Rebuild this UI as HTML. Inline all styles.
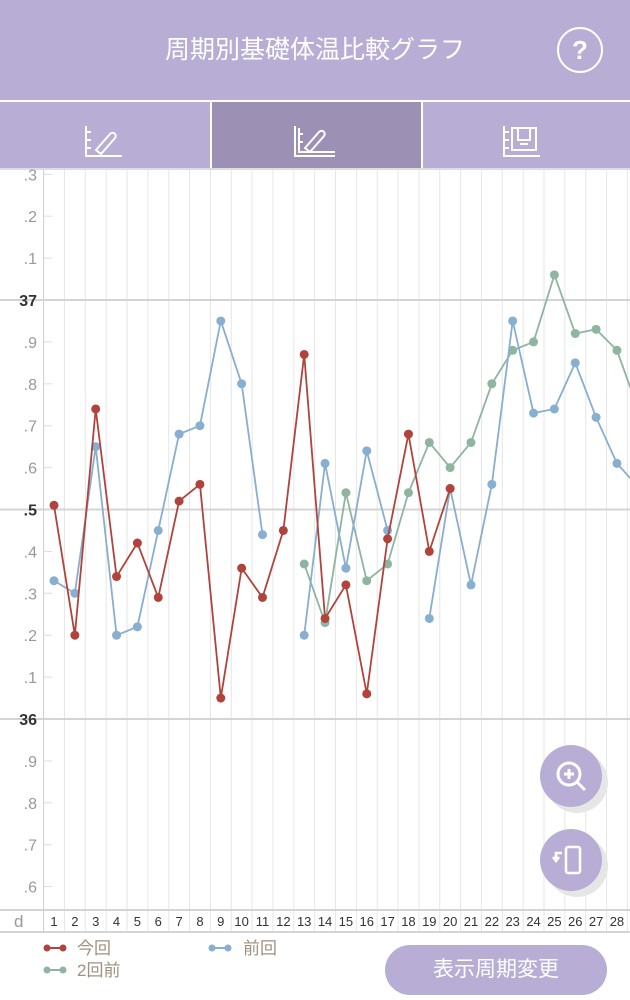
<!DOCTYPE html>
<html><head><meta charset="utf-8"><style>
body{margin:0;width:630px;height:1000px;overflow:hidden;background:#fff;font-family:"Liberation Sans","Noto Sans CJK JP",sans-serif;position:relative}
.hdr{position:absolute;left:0;top:0;width:630px;height:100px;background:#b8aed5;color:#fff;font-size:25px;text-align:center;line-height:100px}
.q{position:absolute;left:557px;top:27px;width:42px;height:42px;border:2px solid #fff;border-radius:50%;line-height:42px;font-size:26px;font-weight:bold;text-align:center}
.tabs{position:absolute;top:102px;left:0;width:630px;height:66px;background:#b8aed5}
.tab2{position:absolute;left:210px;top:0;width:209px;height:66px;background:#9c91b5;border-left:2px solid #fff;border-right:2px solid #fff}
.btn{position:absolute;left:385px;top:945px;width:222px;height:50px;border-radius:25px;background:#b8aed5;color:#fff;font-size:21px;text-align:center;line-height:50px}
.fab{position:absolute;width:62px;height:62px;border-radius:50%;background:#b8aed5;box-shadow:6px 6px 0 #e6e6e6}
</style></head><body>
<div class="hdr">周期別基礎体温比較グラフ<div class="q">?</div></div>
<div class="tabs"><div class="tab2"></div>
<svg width="630" height="66" style="position:absolute;left:0;top:0" fill="none" stroke="#fff" stroke-width="2">
<path d="M86 24v30h36M86 30h5M86 38h5M86 46h5M96 48l14-16a3 3 0 0 1 5 4l-14 16z"/>
<path d="M295 24v30h40M299 26v24h36M299 32h4M299 40h4M305 46l14-16a3 3 0 0 1 5 4l-14 16z"/>
<path d="M504 24v30h36M504 30h5M504 38h5M504 46h5M512 26h24v22h-24zM518 26v12h12v-12M520 42h8"/>
</svg></div>
<svg width="630" height="1000" style="position:absolute;left:0;top:0" font-family="Liberation Sans, sans-serif">
<line x1="0" y1="169" x2="630" y2="169" stroke="#ddd" stroke-width="2"/>
<g id="g"></g>
</svg>
<div class="fab" style="left:540px;top:745px"><svg width="62" height="62" fill="none" stroke="#fff" stroke-width="3"><circle cx="29" cy="29" r="11"/><path d="M37 37l8 8M24 29h10M29 24v10"/></svg></div>
<div class="fab" style="left:540px;top:829px"><svg width="62" height="62" fill="none" stroke="#fff" stroke-width="2.5"><rect x="26" y="18" width="14" height="26" rx="2"/><path d="M22 24h-6v8M13 28l3 4 3-4"/></svg></div>
<svg width="380" height="70" style="position:absolute;left:0;top:930px" font-family="Liberation Sans, Noto Sans CJK JP, sans-serif" font-size="17" fill="#a0907f">
<line x1="47" y1="18" x2="63" y2="18" stroke="#b0443c" stroke-width="2"/><circle cx="47" cy="18" r="3.5" fill="#b0443c"/><circle cx="63" cy="18" r="3.5" fill="#b0443c"/><text x="77" y="24">今回</text>
<line x1="212" y1="18" x2="228" y2="18" stroke="#88aed0" stroke-width="2"/><circle cx="212" cy="18" r="3.5" fill="#88aed0"/><circle cx="228" cy="18" r="3.5" fill="#88aed0"/><text x="243" y="24">前回</text>
<line x1="47" y1="40" x2="63" y2="40" stroke="#8fb5a0" stroke-width="2"/><circle cx="47" cy="40" r="3.5" fill="#8fb5a0"/><circle cx="63" cy="40" r="3.5" fill="#8fb5a0"/><text x="77" y="46">2回前</text>
</svg>
<div class="btn">表示周期変更</div>
<script>
const g=document.getElementById('g');let s='';
const X=d=>54+(d-1)*20.85, Y=v=>719-(v-36)*419;
for(let k=0;k<=28;k++){const x=43.6+k*20.85;s+=`<line x1="${x}" y1="170" x2="${x}" y2="931" stroke="${k==0?'#ccc':'#e6e6e6'}" stroke-width="1"/>`;}
const labs=[[37.3,'.3'],[37.2,'.2'],[37.1,'.1'],[37,'37'],[36.9,'.9'],[36.8,'.8'],[36.7,'.7'],[36.6,'.6'],[36.5,'.5'],[36.4,'.4'],[36.3,'.3'],[36.2,'.2'],[36.1,'.1'],[36,'36'],[35.9,'.9'],[35.8,'.8'],[35.7,'.7'],[35.6,'.6']];
labs.forEach(([v,t])=>{const y=Y(v);const b=(t=='37'||t=='36'||t=='.5');
if(b)s+=`<line x1="0" y1="${y}" x2="630" y2="${y}" stroke="#d4d4d4" stroke-width="2"/>`;else s+=`<line x1="43" y1="${y}" x2="52" y2="${y}" stroke="#ddd"/>`;
s+=`<text x="37" y="${y+6}" text-anchor="end" font-size="16" fill="${b?'#333':'#999'}" ${b?'font-weight="bold"':''}>${t}</text>`;});
s+=`<line x1="0" y1="910" x2="630" y2="910" stroke="#d4d4d4" stroke-width="2"/><line x1="0" y1="932" x2="630" y2="932" stroke="#d4d4d4" stroke-width="2"/>`;
s+=`<text x="14" y="927" font-size="17" fill="#999">d</text>`;
for(let d=1;d<=28;d++)s+=`<text x="${X(d)}" y="926" text-anchor="middle" font-size="13" fill="#333">${d}</text>`;
function ser(segs,c,tail){segs.forEach(seg=>{let p=seg.map(([d,v])=>X(d)+','+Y(v));if(tail&&seg===segs[segs.length-1])p.push(tail);
s+=`<polyline points="${p.join(' ')}" fill="none" stroke="${c}" stroke-width="1.8"/>`;seg.forEach(([d,v])=>s+=`<circle cx="${X(d)}" cy="${Y(v)}" r="4.5" fill="${c}"/>`);});}
const gr=[[13,36.37],[14,36.23],[15,36.54],[16,36.33],[17,36.37],[18,36.54],[19,36.66],[20,36.60],[21,36.66],[22,36.80],[23,36.88],[24,36.90],[25,37.06],[26,36.92],[27,36.93],[28,36.88]];
ser([gr],'#8fb5a0','632,'+Y(36.78));
const bl1=[[1,36.33],[2,36.30],[3,36.65],[4,36.20],[5,36.22],[6,36.45],[7,36.68],[8,36.70],[9,36.95],[10,36.80],[11,36.44]];
const bl2=[[13,36.20],[14,36.61],[15,36.36],[16,36.64],[17,36.45]];
const bl3=[[19,36.24],[20,36.55],[21,36.32],[22,36.56],[23,36.95],[24,36.73],[25,36.74],[26,36.85],[27,36.72],[28,36.61]];
ser([bl1,bl2,bl3],'#88aed0','632,'+Y(36.57));
const rd=[[1,36.51],[2,36.20],[3,36.74],[4,36.34],[5,36.42],[6,36.29],[7,36.52],[8,36.56],[9,36.05],[10,36.36],[11,36.29],[12,36.45],[13,36.87],[14,36.24],[15,36.32],[16,36.06],[17,36.43],[18,36.68],[19,36.40],[20,36.55]];
ser([rd],'#b0443c');
g.innerHTML=s;
</script>
</body></html>
